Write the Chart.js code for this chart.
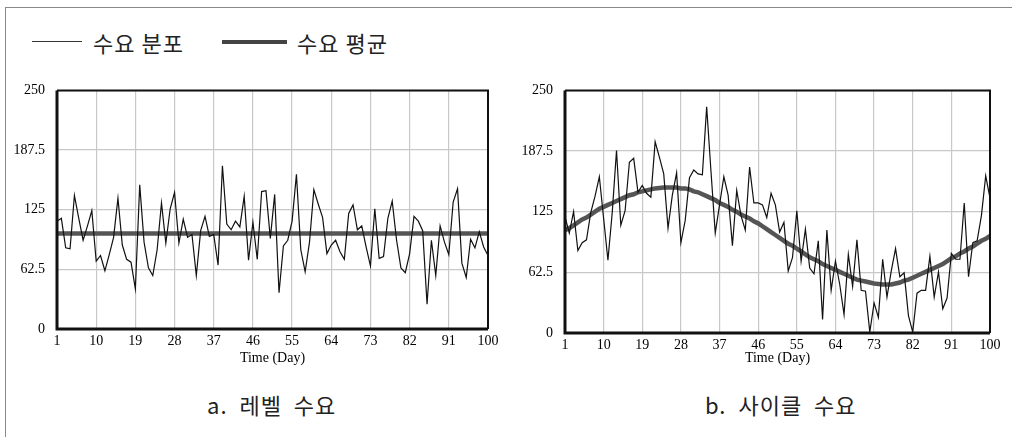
<!DOCTYPE html>
<html>
<head>
<meta charset="utf-8">
<script src="https://cdn.jsdelivr.net/npm/chart.js@4.4.0/dist/chart.umd.min.js"></script>
<style>
  body { margin: 0; background: #fff; }
  #wrap { position: relative; width: 1012px; height: 437px; overflow: hidden; background: #fff; }
  #frame { position: absolute; left: 5px; top: 7px; width: 1020px; height: 450px; border-left: 1px solid #888; border-top: 1px solid #888; }
  .kr { position: absolute; font-family: "Noto Sans CJK KR", sans-serif; font-size: 22px; color: #222; line-height: 1; white-space: nowrap; }
  .ln { position: absolute; }
  canvas { position: absolute; }
</style>
</head>
<body>
<div id="wrap">
  <div id="frame"></div>
  <div class="ln" style="left:32px;top:41px;width:50px;height:0;border-top:1.5px solid #333;"></div>
  <div class="kr" style="left:93px;top:31px;letter-spacing:1px;">수요 분포</div>
  <div class="ln" style="left:222px;top:40px;width:65px;height:4px;background:#444;"></div>
  <div class="kr" style="left:297px;top:31px;letter-spacing:1px;">수요 평균</div>
  <div style="position:absolute;left:0;top:70px;width:505px;height:300px;"><canvas id="levelChart" width="505" height="300"></canvas></div>
  <div style="position:absolute;left:505px;top:70px;width:505px;height:300px;"><canvas id="cycleChart" width="505" height="300"></canvas></div>
  <div class="kr" style="left:207px;top:393px;letter-spacing:1px;word-spacing:6px;">a. 레벨 수요</div>
  <div class="kr" style="left:705px;top:393px;letter-spacing:1px;word-spacing:6px;">b. 사이클 수요</div>
</div>
<script>
// days 1..100
const days = Array.from({ length: 100 }, (_, i) => i + 1);
const dayTicks = [1, 10, 19, 28, 37, 46, 55, 64, 73, 82, 91, 100];
const demandTicks = [0, 62.5, 125, 187.5, 250];

// a. 레벨 수요
const levelDemand = [
  113, 116, 85, 84, 140, 116, 93, 108, 124, 71,
  77, 61, 78, 96, 137, 88, 73, 70, 42, 151,
  91, 64, 56, 83, 132, 90, 126, 143, 90, 115,
  96, 99, 56, 103, 118, 97, 99, 67, 171, 110,
  104, 113, 107, 139, 72, 112, 73, 144, 145, 95,
  141, 38, 87, 93, 113, 162, 83, 60, 91, 146,
  131, 117, 79, 88, 93, 81, 73, 121, 130, 104,
  108, 86, 66, 126, 74, 76, 116, 134, 93, 64,
  59, 79, 118, 113, 103, 26, 93, 56, 108, 91,
  78, 133, 147, 69, 54, 94, 85, 102, 86, 77
];
const levelMeanDays = [1, 100];
const levelMean = [100, 100];

// b. 사이클 수요
const cycleDemand = [
  120, 103, 125, 85, 93, 96, 124, 141, 161, 118,
  75, 124, 188, 111, 126, 176, 180, 145, 152, 144,
  140, 197, 181, 164, 108, 142, 165, 93, 116, 160,
  168, 164, 163, 233, 167, 103, 132, 161, 142, 90,
  147, 121, 106, 171, 134, 134, 132, 119, 144, 132,
  104, 114, 64, 78, 126, 74, 107, 67, 61, 95,
  14, 106, 44, 74, 50, 19, 81, 48, 96, 44,
  43, 1, 31, 16, 76, 37, 64, 87, 58, 62,
  18, 1, 41, 44, 44, 79, 37, 63, 25, 36,
  82, 76, 76, 134, 58, 93, 95, 121, 162, 139
];
const cycleMean = [
  106, 108, 111, 114, 117, 119, 122, 125, 128, 130,
  132, 134, 136, 138, 140, 142, 143, 145, 146, 147,
  148, 149, 149.5, 150, 150, 150, 150, 149, 149, 148,
  146, 145, 143, 141, 139, 137, 134, 132, 130, 127,
  125, 122, 120, 118, 115, 113, 110, 107, 104, 101,
  98, 95, 92, 90, 87, 84, 81, 78, 76, 74,
  71, 69, 67, 65, 63, 61, 59, 57, 55, 54,
  53, 52, 51, 50.5, 50, 50, 50, 51, 52, 54,
  55, 57, 59, 61, 63, 65, 67, 69, 71, 74,
  77, 79, 82, 84, 87, 89, 92, 95, 97, 100
];

const serif = 'Liberation Serif';

const frameBox = {
  id: 'frameBox',
  afterDraw(chart) {
    const a = chart.chartArea;
    const ctx = chart.ctx;
    ctx.save();
    ctx.strokeStyle = '#111';
    ctx.lineWidth = 2;
    ctx.beginPath();
    ctx.moveTo(a.left, a.top);
    ctx.lineTo(a.right, a.top);
    ctx.lineTo(a.right, a.bottom);
    ctx.stroke();
    ctx.lineWidth = 3;
    ctx.beginPath();
    ctx.moveTo(a.left, a.top);
    ctx.lineTo(a.left, a.bottom);
    ctx.lineTo(a.right, a.bottom);
    ctx.stroke();
    ctx.restore();
  }
};

function makeChart(id, noisy, meanData, pad, yWidth, xHeight) {
  return new Chart(document.getElementById(id), {
    type: 'line',
    data: {
      labels: days,
      datasets: [
        {
          data: noisy,
          borderColor: '#111',
          borderWidth: 1.2,
          pointRadius: 0,
          tension: 0
        },
        {
          data: meanData,
          borderColor: '#555',
          borderWidth: 4.5,
          pointRadius: 0,
          tension: 0
        }
      ]
    },
    options: {
      responsive: false,
      animation: false,
      events: [],
      layout: { padding: pad },
      plugins: { legend: { display: false }, tooltip: { enabled: false } },
      scales: {
        x: {
          type: 'linear',
          min: 1,
          max: 100,
          afterBuildTicks: (s) => { s.ticks = dayTicks.map(v => ({ value: v })); },
          afterFit: (s) => { s.height = xHeight; },
          grid: { color: '#c8c8c8', lineWidth: 1.2, drawTicks: false },
          border: { display: false },
          ticks: {
            color: '#000',
            font: { family: serif, size: 14 },
            padding: 4,
            maxRotation: 0,
            autoSkip: false
          },
          title: {
            display: true,
            text: 'Time (Day)',
            color: '#000',
            font: { family: serif, size: 14 },
            padding: { top: 0, bottom: 3 }
          }
        },
        y: {
          min: 0,
          max: 250,
          afterBuildTicks: (s) => { s.ticks = demandTicks.map(v => ({ value: v })); },
          afterFit: (s) => { s.width = yWidth; },
          grid: { color: '#c8c8c8', lineWidth: 1.2, drawTicks: false },
          border: { display: false },
          ticks: {
            color: '#000',
            font: { family: serif, size: 14 },
            padding: 12
          }
        }
      }
    },
    plugins: [frameBox]
  });
}

makeChart('levelChart', levelDemand,
  levelMeanDays.map((d, i) => ({ x: d, y: levelMean[i] })),
  { left: 0, top: 12, right: 17, bottom: 0 }, 57, 41);

makeChart('cycleChart', cycleDemand, cycleMean,
  { left: 0, top: 10, right: 20, bottom: 0 }, 60, 37);
</script>
</body>
</html>
